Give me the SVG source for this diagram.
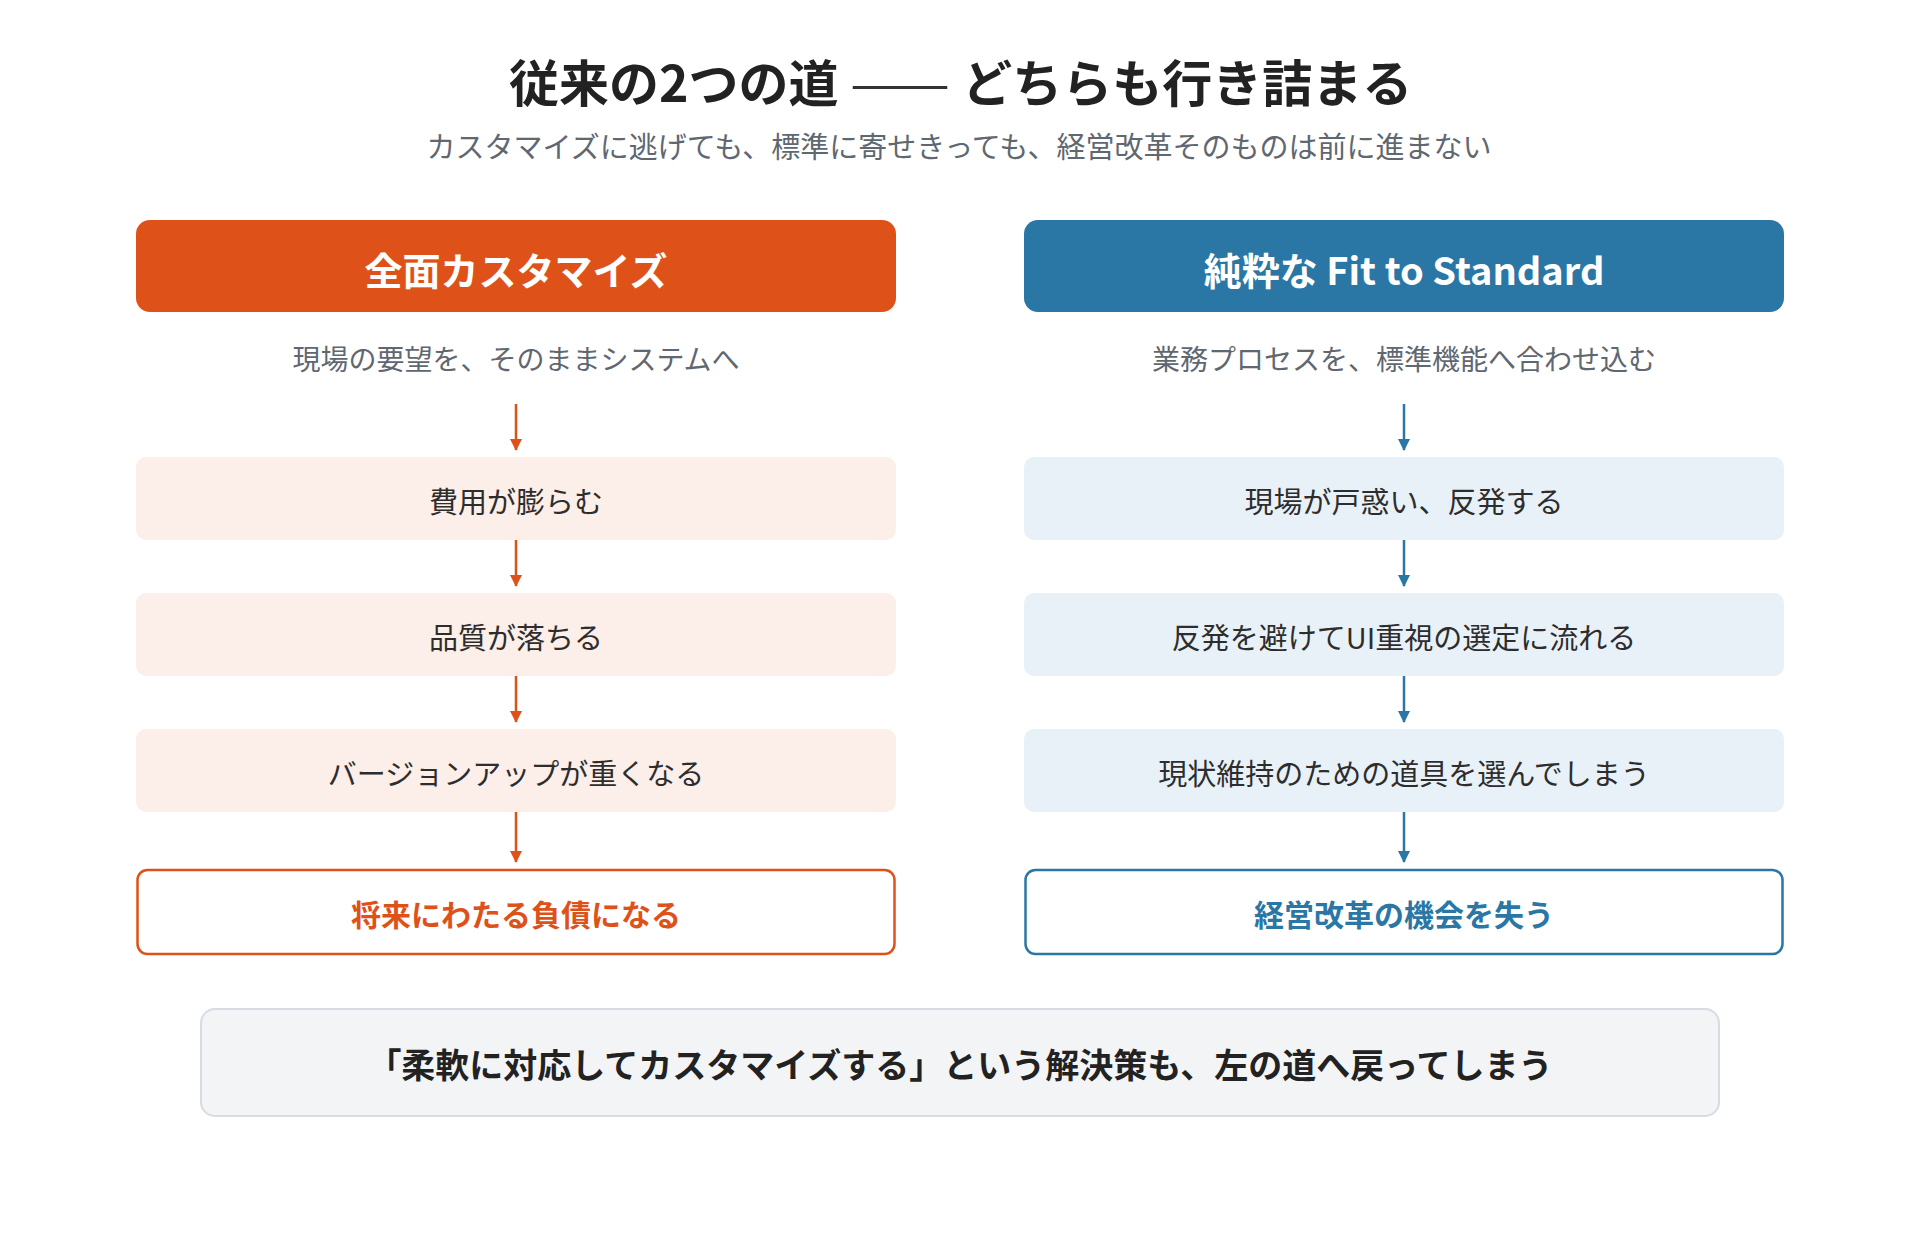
<svg xmlns="http://www.w3.org/2000/svg" width="1920" height="1240" viewBox="0 0 1920 1240">
<defs>
<style>
text{font-family:"Noto Sans CJK JP","Noto Sans",sans-serif;text-anchor:middle;dominant-baseline:central}
.title{font-size:50px;font-weight:700;fill:#222;text-anchor:start}
.dash{font-weight:400;fill:#333}
.sub{font-size:29px;fill:#5f6770}
.hdr{font-size:38px;font-weight:700;fill:#fff}
.lead{font-size:28px;fill:#5f6770}
.step{font-size:29px;fill:#2d2d2d}
.end{font-size:30px;font-weight:700}
.note{font-size:34px;font-weight:700;fill:#222}
.o{fill:#DE521A}.b{fill:#2A77A5}
.so{stroke:#DE521A}.sb{stroke:#2A77A5}
.pl{fill:#FCEEE8}.pb{fill:#E9F1F8}
.arr{stroke-width:2.5;fill:none}
</style>
<marker id="mo" viewBox="0 0 12 12" refX="11" refY="6" markerWidth="12" markerHeight="12" markerUnits="userSpaceOnUse" orient="auto"><path d="M0,0 L12,6 L0,12 Z" fill="#DE521A"/></marker>
<marker id="mb" viewBox="0 0 12 12" refX="11" refY="6" markerWidth="12" markerHeight="12" markerUnits="userSpaceOnUse" orient="auto"><path d="M0,0 L12,6 L0,12 Z" fill="#2A77A5"/></marker>
</defs>
<rect width="1920" height="1240" fill="#fff"/>
<g id="title">
<text class="title" x="509" y="80">従来の2つの道 <tspan class="dash" x="850" textLength="100" lengthAdjust="spacingAndGlyphs">——</tspan><tspan x="951"> どちらも行き詰まる</tspan></text>
<text class="sub" x="959" y="145">カスタマイズに逃げても、標準に寄せきっても、経営改革そのものは前に進まない</text>
</g>
<g id="left-header"><rect x="136" y="220" width="760" height="92" rx="14" class="o"/><text class="hdr" x="516" y="268">全面カスタマイズ</text></g>
<g id="right-header"><rect x="1024" y="220" width="760" height="92" rx="14" class="b"/><text class="hdr" x="1404" y="268">純粋な Fit to Standard</text></g>
<g id="left-lead"><text class="lead" x="516" y="358">現場の要望を、そのままシステムへ</text></g>
<g id="right-lead"><text class="lead" x="1404" y="358">業務プロセスを、標準機能へ合わせ込む</text></g>
<g id="left-step1"><rect x="136" y="457" width="760" height="83" rx="10" class="pl"/><text class="step" x="516" y="500">費用が膨らむ</text></g>
<g id="left-step2"><rect x="136" y="593" width="760" height="83" rx="10" class="pl"/><text class="step" x="516" y="636">品質が落ちる</text></g>
<g id="left-step3"><rect x="136" y="729" width="760" height="83" rx="10" class="pl"/><text class="step" x="516" y="772">バージョンアップが重くなる</text></g>
<g id="left-end"><rect x="137.5" y="870" width="757" height="84" rx="10" fill="#fff" class="so" stroke-width="2.5"/><text class="end o" x="516" y="913">将来にわたる負債になる</text></g>
<g id="right-step1"><rect x="1024" y="457" width="760" height="83" rx="10" class="pb"/><text class="step" x="1404" y="500">現場が戸惑い、反発する</text></g>
<g id="right-step2"><rect x="1024" y="593" width="760" height="83" rx="10" class="pb"/><text class="step" x="1404" y="636">反発を避けてUI重視の選定に流れる</text></g>
<g id="right-step3"><rect x="1024" y="729" width="760" height="83" rx="10" class="pb"/><text class="step" x="1404" y="772">現状維持のための道具を選んでしまう</text></g>
<g id="right-end"><rect x="1025.5" y="870" width="757" height="84" rx="10" fill="#fff" class="sb" stroke-width="2.5"/><text class="end b" x="1404" y="913">経営改革の機会を失う</text></g>
<g id="connectors">
<line x1="516" y1="404" x2="516" y2="450" class="arr so" marker-end="url(#mo)"/>
<line x1="516" y1="540" x2="516" y2="586" class="arr so" marker-end="url(#mo)"/>
<line x1="516" y1="676" x2="516" y2="722" class="arr so" marker-end="url(#mo)"/>
<line x1="516" y1="812" x2="516" y2="862" class="arr so" marker-end="url(#mo)"/>
<line x1="1404" y1="404" x2="1404" y2="450" class="arr sb" marker-end="url(#mb)"/>
<line x1="1404" y1="540" x2="1404" y2="586" class="arr sb" marker-end="url(#mb)"/>
<line x1="1404" y1="676" x2="1404" y2="722" class="arr sb" marker-end="url(#mb)"/>
<line x1="1404" y1="812" x2="1404" y2="862" class="arr sb" marker-end="url(#mb)"/>
</g>
<g id="note"><rect x="201" y="1009" width="1518" height="107" rx="14" fill="#F3F4F6" stroke="#D6DCE2" stroke-width="2"/><text class="note" x="960" y="1063">「柔軟に対応してカスタマイズする」という解決策も、左の道へ戻ってしまう</text></g>
</svg>
